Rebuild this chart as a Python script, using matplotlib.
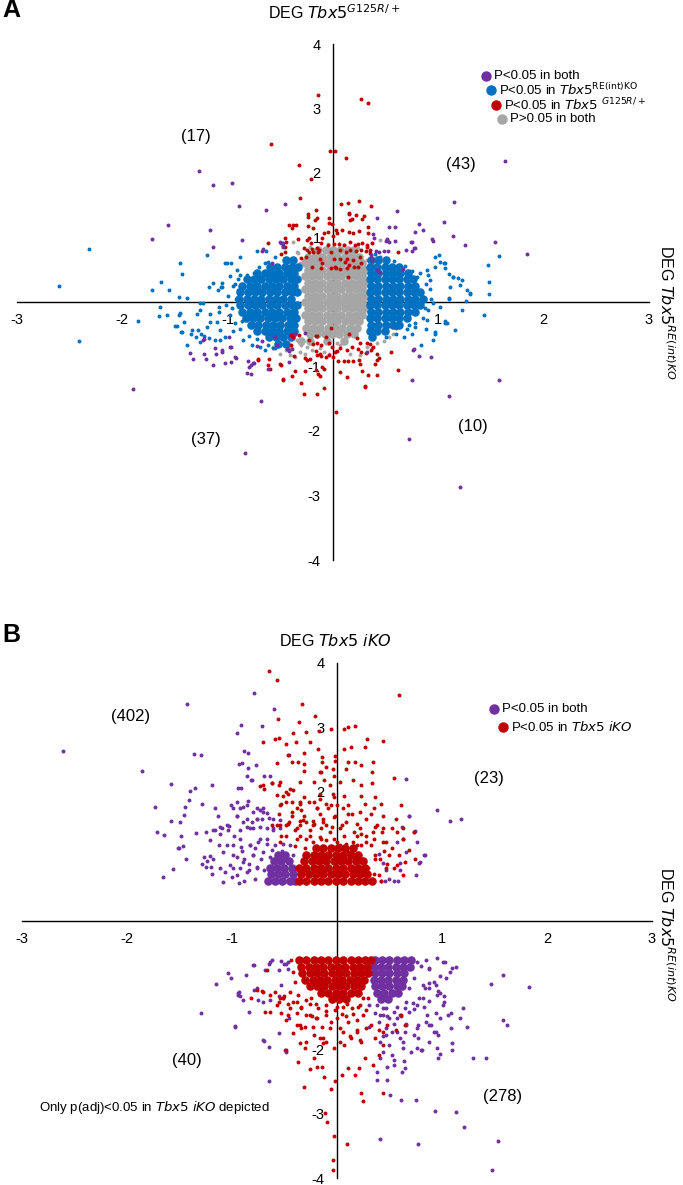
import matplotlib
matplotlib.use("Agg")
import matplotlib.pyplot as plt
from matplotlib.lines import Line2D

plt.rcParams['font.family'] = ['Liberation Sans Narrow', 'Liberation Sans', 'DejaVu Sans']
plt.rcParams['mathtext.fontset'] = 'custom'
plt.rcParams['mathtext.rm'] = 'Liberation Sans Narrow'
plt.rcParams['mathtext.it'] = 'Liberation Sans Narrow:italic'
plt.rcParams['mathtext.bf'] = 'Liberation Sans Narrow:bold'

PURPLE = '#7030A0'
BLUE = '#0070C0'
RED = '#C00000'
GREY = '#A6A6A6'

# ---------------- panel A data (log2 FC RE(int)KO , log2 FC G125R/+) ----------------
a_purple = [(-1.27, 2.03), (-1.14, 1.81), (-0.96, 1.85), (1.63, 2.18), (-0.89, 1.49), (-0.64, 1.42),
            (-0.46, 1.52), (1.15, 1.55), (0.61, 1.41), (0.42, 1.31), (-1.57, 1.20), (-1.17, 1.12),
            (1.05, 1.24), (0.82, 1.21), (0.85, 1.12), (-1.72, 0.97), (-0.86, 0.96), (1.14, 1.02),
            (0.94, 0.98), (1.54, 0.93), (1.25, 0.88), (1.84, 0.75), (-1.14, 0.85), (-0.66, 0.82),
            (-0.67, 0.79), (0.51, 0.96), (0.75, 0.93), (0.77, 0.83), (-0.49, 0.91), (-0.50, 0.93),
            (-0.47, 0.92), (-0.47, 0.86), (-0.58, 0.60), (0.44, 0.47), (0.53, 1.16), (0.59, 1.17),
            (0.78, 1.09), (0.95, 0.95), (0.38, 1.05), (0.39, 0.99), (0.50, 0.95), (0.53, 0.93),
            (0.51, 0.97), (0.59, 0.95), (0.74, 0.93), (0.69, 0.80), (0.75, 0.79), (0.78, 0.84),
            (0.41, 0.79), (0.44, 0.78), (0.48, 0.79), (0.52, 0.79), (0.42, 0.49), (0.45, 0.46),
            (0.66, 0.51), (0.36, 0.73), (0.37, 0.65),
            (-1.36, -0.79), (-1.33, -0.88), (-1.22, -0.81), (-1.21, -0.88), (-1.14, -0.98),
            (-1.05, -0.74), (-1.03, -0.95), (-0.93, -0.86), (-0.78, -0.98), (-0.76, -0.95),
            (-0.82, -1.10), (-0.78, -1.11), (-1.90, -1.35), (-0.68, -1.53), (-0.84, -2.34),
            (0.75, -1.21), (1.10, -1.46), (1.58, -1.21), (0.72, -2.13), (1.21, -2.87), (0.82, -0.84),
            (0.93, -0.86), (-1.22, -0.58), (-0.97, -0.69), (-0.43, -0.73), (-1.12, -0.72),
            (-1.11, -0.80), (-1.05, -0.78), (-0.97, -0.93), (-0.92, -0.87), (-0.81, -0.91),
            (-0.75, -0.94), (-1.23, -0.59), (-0.99, -0.54), (-0.98, -0.70), (-0.55, -0.54),
            (-0.53, -0.66), (-0.44, -0.73), (-0.42, -0.76), (-0.39, -0.73), (-0.27, -0.48),
            (-0.36, -0.49), (-0.72, -0.68), (-0.67, -0.60), (-0.62, -1.04), (-0.80, -1.01),
            (-0.42, -0.93), (0.32, -0.78), (0.76, -0.75), (0.77, -0.73)]

a_red = [(-0.14, 3.21), (0.27, 3.15), (0.33, 3.08), (-0.59, 2.45), (-0.03, 2.34), (0.02, 2.34),
         (0.12, 2.24), (-0.32, 2.13), (-0.21, 1.91), (-0.31, 1.62), (0.08, 1.52), (0.14, 1.53),
         (0.25, 1.57), (0.36, 1.49), (-0.16, 1.43), (-0.24, 1.36), (-0.24, 1.32), (-0.15, 1.31),
         (-0.17, 1.27), (-0.04, 1.30), (-0.04, 1.22), (-0.01, 1.21), (0.15, 1.36), (0.16, 1.27),
         (0.22, 1.35), (0.28, 1.28), (0.33, 1.17), (-0.42, 1.20), (-0.38, 1.19), (-0.35, 1.19),
         (-0.39, 1.14), (-0.24, 1.18), (-0.19, 1.15), (-0.09, 1.07), (-0.05, 1.08), (0.03, 1.12),
         (0.04, 1.07), (0.09, 1.11), (0.15, 1.08), (0.19, 1.07), (0.25, 1.10), (-0.10, 0.99),
         (0.00, 1.02), (-0.46, 1.00), (-0.33, 0.97), (-0.25, 0.96), (-0.23, 0.99), (-0.21, 0.92),
         (-0.62, 0.91), (-0.47, 0.87), (-0.46, 0.86), (-0.11, 0.91), (-0.05, 0.89), (0.01, 0.90),
         (0.06, 0.90), (0.10, 0.88), (0.16, 0.93), (0.21, 0.89), (0.24, 0.90), (0.28, 0.91),
         (0.32, 0.88), (-0.25, 0.81), (-0.20, 0.82), (-0.15, 0.83), (-0.13, 0.80), (-0.02, 0.78),
         (0.07, 0.81), (0.12, 0.78), (0.16, 0.81), (0.22, 0.79), (0.27, 0.80), (0.31, 0.79),
         (0.35, 0.80), (-0.30, 0.68), (-0.26, 0.69), (-0.12, 0.66), (0.01, 0.67), (0.07, 0.66),
         (0.13, 0.67), (0.19, 0.65), (0.26, 0.69), (-0.20, 0.54), (0.03, 0.53), (0.07, 0.51),
         (0.11, 0.62), (0.13, 0.52), (0.20, 0.55), (0.24, 0.54), (0.14, 0.38), (0.62, 0.78),
         (-0.46, 0.78), (-0.49, 0.74), (-0.28, 0.83), (-0.23, 0.78), (-0.19, 0.78), (-0.14, 0.78),
         (-0.11, 0.52), (0.33, 1.07), (0.37, 0.91), (0.32, 0.86), (0.02, 0.55), (0.15, 0.57),
         (0.27, 0.60), (0.37, 0.65), (0.35, 0.76), (-0.10, 0.60), (-0.02, 0.52), (0.15, 1.38),
         (0.18, 1.29), (0.29, 1.33), (-0.45, 0.93),
         (-0.02, -0.41), (-0.15, -0.52), (-0.07, -0.54), (-0.23, -0.59), (-0.19, -0.65),
         (-0.15, -0.64), (-0.11, -0.67), (-0.04, -0.64), (-0.01, -0.69), (0.15, -0.49),
         (0.23, -0.56), (0.26, -0.64), (0.32, -0.63), (0.35, -0.65), (0.38, -0.69), (0.04, -0.76),
         (0.07, -0.72), (0.13, -0.74), (0.18, -0.69), (0.24, -0.73), (0.27, -0.77), (0.31, -0.79),
         (0.36, -0.74), (0.42, -0.80), (0.44, -0.87), (0.42, -0.90), (0.40, -0.96), (0.02, -0.77),
         (0.00, -0.85), (0.05, -0.91), (0.10, -0.91), (0.14, -0.91), (0.19, -0.91), (0.26, -0.96),
         (0.25, -0.90), (-0.16, -0.76), (-0.12, -0.80), (-0.15, -0.82), (-0.11, -0.84),
         (-0.07, -0.85), (-0.04, -0.82), (-0.27, -0.87), (-0.22, -0.89), (-0.16, -1.05),
         (-0.10, -1.00), (-0.09, -1.04), (-0.14, -1.12), (-0.40, -0.67), (-0.37, -0.84),
         (-0.50, -0.96), (-0.62, -0.98), (-0.71, -0.90), (-0.36, -1.07), (-0.27, -1.07),
         (-0.39, -1.15), (-0.47, -1.21), (-0.12, -1.15), (-0.30, -1.26), (-0.09, -1.33),
         (-0.28, -1.42), (-0.15, -1.42), (0.07, -1.08), (0.13, -1.17), (0.28, -1.07), (0.30, -1.31),
         (0.33, -1.13), (0.42, -1.13), (0.62, -1.05), (0.55, -0.77), (-0.40, -0.51), (-0.38, -0.54),
         (0.03, -1.71), (0.30, -1.32), (-0.71, -0.88), (-0.61, -0.89), (-0.60, -1.04),
         (-0.49, -0.97), (-0.47, -1.20), (-0.25, -0.90), (-0.16, -0.52), (-0.36, -0.49),
         (-0.32, -0.51)]

a_blue = [(-2.32, 0.82), (-2.60, 0.25), (-1.45, 0.60), (-1.43, 0.44), (-1.63, 0.31), (-1.72, 0.19),
          (-1.56, 0.19), (1.58, 0.71), (1.47, 0.57), (1.48, 0.31), (1.48, 0.13), (1.30, 0.13),
          (1.14, 0.39), (1.06, 0.60), (0.97, 0.70), (-1.01, 0.60), (-0.97, 0.60), (-0.91, 0.50),
          (-1.18, 0.24), (-1.14, 0.29), (-1.05, 0.24), (-2.41, -0.60), (-1.85, -0.29), (-1.64, -0.08),
          (-1.58, -0.20), (-1.50, -0.37), (-1.46, -0.20), (-1.43, -0.46), (-1.35, -0.49),
          (-1.28, -0.43), (-1.22, -0.53), (1.43, -0.20), (1.22, -0.12), (1.26, 0.02), (1.30, 0.14),
          (1.16, -0.43), (1.06, -0.29), (1.08, -0.33), (0.97, -0.49), (0.95, -0.59), (-1.46, 0.07),
          (-1.39, 0.06), (-1.20, 0.73), (-1.09, 0.19), (-1.06, 0.23), (-1.03, 0.60), (-0.88, 0.70),
          (-0.72, 0.79), (-0.64, 0.79), (-0.65, 0.60), (-0.55, 0.69), (-1.26, -0.02), (-1.08, -0.07),
          (-1.65, -0.21), (-1.45, -0.17), (-1.41, -0.31), (-1.48, -0.37), (-1.44, -0.47),
          (-1.39, -0.67), (-1.34, -0.43), (-1.30, -0.54), (-1.26, -0.62), (-1.25, -0.49),
          (-1.20, -0.38), (-1.17, -0.31), (-1.10, -0.31), (-1.07, -0.43), (-1.18, -0.56),
          (-1.12, -0.59), (-1.07, -0.59), (-1.03, -0.54), (-1.26, -0.12), (-1.23, -0.02),
          (-1.29, -0.19), (-1.17, -0.18), (1.01, 0.73), (1.02, 0.62), (1.05, 0.60), (1.06, 0.52),
          (1.10, 0.44), (1.14, 0.39), (1.19, 0.37), (1.21, 0.26), (1.11, 0.24), (1.10, 0.06),
          (1.22, 0.34), (1.27, 0.19), (0.97, 0.55), (0.89, 0.50), (0.92, 0.34), (0.83, 0.13),
          (1.10, 0.04), (1.06, -0.33), (0.97, -0.46), (0.84, -0.67), (0.75, -0.49), (0.67, -0.54),
          (0.60, -0.41), (0.78, -0.38), (0.89, -0.28), (0.87, -0.10), (1.02, -0.07), (0.79, -0.12),
          (-0.65, -0.74), (-0.69, -0.69), (-0.57, -0.72), (-0.50, -0.64), (-0.77, -0.67),
          (-0.85, -0.59), (-0.98, 0.40), (-0.95, -0.45), (0.90, 0.42), (0.88, -0.42),
          (-1.00, 0.10), (-1.02, -0.05), (-0.98, -0.20), (-0.95, 0.25), (-0.90, 0.35), (-0.93, -0.32),
          (-0.88, -0.42), (-0.80, -0.52), (-0.75, 0.45), (-0.70, 0.55), (-0.62, 0.62), (-0.72, -0.58),
          (-0.62, -0.66), (-0.55, -0.72), (-0.88, 0.42), (-1.05, 0.30), (-1.08, -0.15), (-0.92, 0.05),
          (-0.96, -0.10), (-0.90, 0.18), (-0.86, -0.30), (-0.82, 0.42), (-0.93, 0.28),
          (0.92, 0.20), (0.93, 0.05), (0.90, -0.12), (0.85, -0.25), (0.80, 0.38), (0.75, 0.48),
          (0.68, 0.56), (0.58, 0.64), (0.78, -0.32), (0.70, -0.42), (0.60, -0.50), (0.50, -0.55),
          (0.45, 0.70), (0.40, 0.75), (0.88, 0.28), (0.95, -0.02), (0.83, 0.45), (0.72, -0.36)]

# dense centre of the two blue lobes: (y, x positions) rows
a_blue_rows = [(0.65, [-0.45, -0.38]),
               (0.55, [-0.60, -0.53, -0.46, -0.39, -0.33]),
               (0.45, [-0.72, -0.65, -0.58, -0.51, -0.44, -0.37]),
               (0.35, [-0.82, -0.75, -0.68, -0.61, -0.54, -0.47, -0.40, -0.34]),
               (0.25, [-0.86, -0.79, -0.72, -0.65, -0.58, -0.51, -0.44, -0.37]),
               (0.15, [-0.88, -0.81, -0.74, -0.67, -0.60, -0.53, -0.46, -0.39, -0.34]),
               (0.05, [-0.89, -0.82, -0.75, -0.68, -0.61, -0.54, -0.47, -0.40]),
               (-0.05, [-0.88, -0.81, -0.74, -0.67, -0.60, -0.53, -0.46, -0.39, -0.34]),
               (-0.15, [-0.86, -0.79, -0.72, -0.65, -0.58, -0.51, -0.44, -0.37]),
               (-0.25, [-0.83, -0.76, -0.69, -0.62, -0.55, -0.48, -0.41, -0.35]),
               (-0.35, [-0.78, -0.71, -0.64, -0.57, -0.50, -0.43, -0.37]),
               (-0.45, [-0.72, -0.65, -0.58, -0.51, -0.44, -0.37]),
               (-0.55, [-0.61, -0.54, -0.47, -0.40]),
               (-0.65, [-0.52, -0.45]),
               (0.65, [0.36, 0.43, 0.50]),
               (0.55, [0.35, 0.42, 0.49, 0.56, 0.63]),
               (0.45, [0.36, 0.43, 0.50, 0.57, 0.64, 0.71]),
               (0.35, [0.35, 0.42, 0.49, 0.56, 0.63, 0.70, 0.76]),
               (0.25, [0.36, 0.43, 0.50, 0.57, 0.64, 0.71, 0.78]),
               (0.15, [0.35, 0.42, 0.49, 0.56, 0.63, 0.70, 0.77, 0.83]),
               (0.05, [0.36, 0.43, 0.50, 0.57, 0.64, 0.71, 0.78, 0.85]),
               (-0.05, [0.35, 0.42, 0.49, 0.56, 0.63, 0.70, 0.77, 0.83]),
               (-0.15, [0.36, 0.43, 0.50, 0.57, 0.64, 0.71, 0.78]),
               (-0.25, [0.35, 0.42, 0.49, 0.56, 0.63, 0.70]),
               (-0.35, [0.36, 0.43, 0.50, 0.57, 0.63]),
               (-0.45, [0.35, 0.42, 0.49]),
               (-0.55, [0.37])]

a_grey = [(-0.34, -0.59), (-0.30, -0.67), (-0.25, -0.69), (-0.22, -0.64), (-0.31, -0.77),
          (-0.27, -0.80), (-0.20, -0.74), (-0.12, -0.72), (-0.09, -0.77), (-0.04, -0.80),
          (0.04, -0.64), (0.07, -0.67), (0.16, -0.80), (0.26, -0.82), (0.32, -0.69), (0.37, -0.72),
          (0.42, -0.64), (0.48, -0.61), (0.53, -0.54), (0.57, -0.49), (-0.41, -0.82), (-0.50, -0.80),
          (-0.57, -0.69), (-0.38, 0.93), (-0.33, 0.76), (-0.28, 0.65), (-0.41, 0.62), (0.32, 0.65),
          (0.38, 0.57), (0.42, 0.70), (0.45, 0.96), (0.37, 0.91), (-0.34, 0.78), (-0.41, 0.55),
          (-0.31, 0.60), (-0.45, -0.74), (-0.40, -0.70), (-0.36, -0.85), (-0.22, 0.86),
          (0.24, 0.84), (-0.05, 0.90), (0.10, 0.88)]

a_grey_rows = [(0.80, [-0.14, -0.07, 0.00, 0.07, 0.14, 0.20]),
               (0.70, [-0.24, -0.17, -0.10, -0.03, 0.04, 0.11, 0.18, 0.25]),
               (0.60, [-0.27, -0.20, -0.13, -0.06, 0.01, 0.08, 0.15, 0.22, 0.28]),
               (0.50, [-0.24, -0.17, -0.10, -0.03, 0.04, 0.11, 0.18, 0.25, 0.30]),
               (0.40, [-0.27, -0.20, -0.13, -0.06, 0.01, 0.08, 0.15, 0.22, 0.28]),
               (0.30, [-0.24, -0.17, -0.10, -0.03, 0.04, 0.11, 0.18, 0.25, 0.30]),
               (0.20, [-0.27, -0.20, -0.13, -0.06, 0.01, 0.08, 0.15, 0.22, 0.28]),
               (0.10, [-0.24, -0.17, -0.10, -0.03, 0.04, 0.11, 0.18, 0.25, 0.30]),
               (0.00, [-0.27, -0.20, -0.13, -0.06, 0.01, 0.08, 0.15, 0.22, 0.28]),
               (-0.10, [-0.24, -0.17, -0.10, -0.03, 0.04, 0.11, 0.18, 0.25, 0.30]),
               (-0.20, [-0.27, -0.20, -0.13, -0.06, 0.01, 0.08, 0.15, 0.22, 0.28]),
               (-0.30, [-0.24, -0.17, -0.10, -0.03, 0.04, 0.11, 0.18, 0.25]),
               (-0.40, [-0.26, -0.19, -0.12, -0.05, 0.02, 0.09, 0.16, 0.23]),
               (-0.50, [-0.22, -0.15, -0.08, -0.01, 0.06, 0.13, 0.20]),
               (-0.60, [-0.30, -0.22, -0.06, 0.10])]

# ---------------- panel B data (log2 FC RE(int)KO , log2 FC iKO) ----------------
b_purple = [(-2.61, 2.64), (-1.86, 2.33), (-1.43, 3.37), (-0.79, 3.53), (-0.60, 3.29), (-0.91, 3.03),
            (-0.95, 2.91), (-0.71, 3.02), (-1.36, 2.59), (-1.29, 2.57), (-0.93, 2.43), (-0.90, 2.44),
            (-0.88, 2.63), (-0.85, 2.60), (-0.77, 2.42), (-0.46, 2.57), (-0.85, 2.37), (-0.69, 2.25),
            (-0.64, 2.25), (-0.82, 2.18), (-1.58, 2.12), (-1.40, 2.01), (-1.35, 2.06), (-1.19, 2.10),
            (-0.94, 2.06), (-0.91, 2.06), (0.66, 2.20), (-1.73, 1.77), (-1.58, 1.54), (-1.71, 1.38),
            (-1.65, 1.33), (-1.51, 1.13), (-1.47, 1.16), (-1.44, 0.96), (-1.66, 0.68), (-1.56, 0.80),
            (-1.41, 1.87), (-1.45, 1.76), (-1.49, 1.53), (-1.34, 1.36), (-1.28, 1.81), (-1.16, 1.74),
            (-1.13, 1.63), (-1.18, 1.40), (-1.09, 1.43), (-1.05, 1.48), (-1.01, 1.80), (-0.99, 1.74),
            (0.95, 1.72), (1.08, 1.54), (1.18, 1.58), (0.69, 1.62), (0.74, 1.39), (0.83, 1.02),
            (0.78, 0.90), (0.75, 0.70), (0.60, 0.89), (0.60, 0.79), (0.47, 0.78), (0.44, 0.89),
            (0.40, 1.04), (0.54, 0.62), (0.46, 0.62), (0.42, 0.62), (-1.46, 1.64), (-1.48, 1.31),
            (-1.50, 1.13), (-1.25, 1.38), (-1.21, 1.25), (-1.16, 1.41), (-1.11, 1.45), (-1.11, 1.34),
            (-1.04, 1.40), (-1.03, 1.47), (-1.12, 1.17), (-1.08, 1.07), (-1.05, 1.18), (-0.95, 1.63),
            (-1.27, 0.98), (-1.24, 0.93), (-1.21, 1.00), (-1.28, 0.87), (-1.25, 0.83), (-1.20, 0.83),
            (-1.18, 0.96), (-1.19, 0.73), (-1.11, 0.81), (-1.07, 0.75), (-1.08, 0.60), (-1.02, 0.86),
            (-0.99, 0.81), (-0.95, 1.84), (-0.92, 1.74), (-0.89, 1.76), (-0.85, 1.85), (-0.86, 1.79),
            (-0.76, 1.74), (-0.73, 1.71), (-0.80, 1.69), (-0.70, 1.74), (-0.67, 1.67), (-0.86, 1.58),
            (-0.81, 1.53), (-0.76, 1.58), (-0.71, 1.57), (-0.65, 1.59), (-0.61, 1.58), (-0.54, 1.56),
            (-0.98, 1.32), (-0.92, 1.40), (-0.86, 1.45), (-0.80, 1.43), (-0.73, 1.45), (-0.67, 1.43),
            (-0.61, 1.40), (-0.54, 1.43), (-0.99, 1.17), (-0.91, 1.14), (-0.83, 1.17), (-0.75, 1.22),
            (-0.67, 1.19), (-0.59, 1.17), (-0.51, 1.19), (-0.45, 1.17), (-0.95, 0.99), (-0.88, 0.96),
            (-0.80, 1.01), (-0.72, 0.96), (-0.64, 0.99), (-0.54, 1.01), (-0.49, 0.96), (-0.42, 1.01),
            (-0.92, 0.81), (-0.84, 0.78), (-0.76, 0.83), (-0.69, 0.78), (-0.61, 0.81), (-0.53, 0.81),
            (-0.45, 0.78), (-0.38, 0.81), (-0.88, 0.62), (-0.78, 0.65), (-0.67, 0.62), (-0.57, 0.62),
            (-0.48, 0.62), (-0.38, 0.62), (-0.86, 2.25), (-0.81, 2.18), (-0.95, 1.63), (-0.89, 1.53),
            (-0.83, 1.43), (-0.76, 1.58), (-0.70, 1.69), (-0.92, 1.27), (-0.83, 1.17), (-0.73, 1.27),
            (-0.99, 1.01), (-0.89, 0.91), (-0.80, 1.01), (-0.70, 1.07), (-0.95, 0.70), (-0.86, 0.75),
            (-0.76, 0.81), (-0.67, 1.27), (-0.61, 1.43), (0.62, 1.45), (0.73, 1.38), (0.76, 1.22),
            (0.57, 1.22), (0.66, 1.07), (0.79, 0.91), (0.84, 1.01), (0.58, 0.62), (0.50, 0.65),
            (0.69, 1.63), (-0.62, 1.10), (-0.57, 0.92), (-0.52, 1.08), (-0.84, 0.88), (-0.78, 1.12),
            (-0.90, 1.08), (-1.00, 0.68), (-0.93, 0.58),
            (-1.29, -1.43), (-0.97, -1.64), (-1.15, -0.98), (-1.04, -0.82), (-1.01, -0.90),
            (-0.94, -1.12), (-0.94, -1.16), (-0.89, -1.24), (-0.79, -1.08), (-0.87, -0.85),
            (-0.79, -0.69), (-0.68, -0.77), (-0.62, -0.62), (-0.55, -0.77), (-0.47, -0.64),
            (-0.84, -1.42), (-0.55, -1.75), (-0.69, -1.87), (-0.65, -1.97), (-0.49, -2.01),
            (-0.48, -2.05), (-0.65, -2.49), (-0.65, -0.67), (-0.53, -0.63), (-0.50, -0.67),
            (-0.47, -0.76), (-0.93, -1.11), (-0.92, -1.17), (-0.75, -1.24), (-0.64, -1.24),
            (-0.55, -1.17), (-0.53, -1.00), (-0.70, -1.86), (-0.46, -1.52), (-0.80, -0.69),
            (-0.64, -0.64), (-0.48, -0.67), (-0.76, -1.05), (-0.70, -1.26), (-0.97, -1.65),
            (0.95, -0.59), (1.03, -0.64), (1.13, -0.73), (1.10, -0.74), (1.58, -0.84), (1.47, -0.99),
            (1.83, -1.04), (0.98, -0.86), (1.04, -0.90), (0.94, -1.00), (0.88, -0.97), (0.98, -1.13),
            (1.02, -1.18), (0.96, -1.10), (1.20, -1.36), (1.17, -1.52), (1.24, -1.65), (1.58, -1.55),
            (1.62, -1.62), (1.09, -1.44), (1.09, -1.67), (1.10, -1.91), (1.10, -2.01), (1.30, -2.13),
            (1.42, -2.13), (0.96, -2.13), (0.98, -2.08), (0.94, -1.73), (0.96, -1.78), (0.88, -1.62),
            (0.80, -2.01), (0.61, -2.79), (0.75, -2.79), (0.51, -2.71), (0.93, -2.96), (1.13, -2.97),
            (1.21, -3.21), (0.41, -3.40), (0.77, -3.47), (1.53, -3.42), (1.48, -3.87), (0.65, -2.29),
            (0.62, -2.35), (0.64, -2.19), (0.54, -2.17), (0.52, -2.09), (0.48, -2.27), (0.38, -2.35),
            (0.38, -2.48), (0.48, -2.48), (0.71, -2.04), (0.81, -2.01), (0.77, -1.83), (0.73, -1.78),
            (0.65, -1.73), (0.77, -1.62), (0.90, -1.62), (0.98, -1.52), (0.86, -1.47), (0.73, -1.37),
            (0.83, -1.34), (0.94, -1.44), (1.02, -1.26), (0.44, -1.80), (0.52, -1.73), (0.54, -1.60),
            (0.40, -1.57), (0.48, -1.49), (0.36, -1.44), (0.44, -1.36), (0.54, -1.42), (0.61, -1.49),
            (0.65, -1.36), (0.31, -1.31), (0.44, -1.47), (0.57, -1.52), (0.66, -1.60), (0.31, -1.65),
            (0.47, -1.78), (0.60, -1.83), (0.63, -1.98), (0.44, -2.04), (0.41, -2.14), (0.54, -2.24),
            (0.85, -0.62), (0.80, -0.70), (0.88, -0.75), (0.84, -1.05), (0.78, -1.20), (0.88, -1.25),
            (0.72, -1.28), (0.38, -1.31), (0.47, -1.36), (0.57, -1.34), (0.66, -1.26), (0.41, -1.47),
            (0.50, -1.52), (0.60, -1.47), (0.69, -1.42), (0.76, -1.31), (0.82, -1.21), (0.88, -1.05),
            (0.95, -1.16), (1.01, -1.31), (1.06, -1.47), (0.47, -1.67), (0.57, -1.73), (0.66, -1.62),
            (0.76, -1.67), (0.85, -1.57), (0.92, -1.73), (0.41, -1.88), (0.50, -1.93), (0.63, -1.88),
            (0.88, -1.88), (0.95, -1.98), (0.76, -1.98), (0.76, -0.64), (0.88, -0.74), (1.01, -0.64),
            (1.08, -0.80), (0.92, -0.95), (0.82, -1.00), (0.73, -0.90), (0.69, -1.05)]

b_purple_rows = [(0.62, [-0.66, -0.59, -0.52, -0.45, -0.40]),
                 (0.72, [-0.63, -0.56, -0.49, -0.42]),
                 (0.82, [-0.64, -0.57, -0.50, -0.43]),
                 (0.92, [-0.60, -0.53, -0.46]),
                 (1.02, [-0.56, -0.49]),
                 (-0.62, [0.36, 0.43, 0.50, 0.57, 0.64, 0.71]),
                 (-0.72, [0.35, 0.42, 0.49, 0.56, 0.63, 0.70]),
                 (-0.82, [0.36, 0.43, 0.50, 0.57, 0.64]),
                 (-0.92, [0.35, 0.42, 0.49, 0.56, 0.63]),
                 (-1.02, [0.36, 0.43, 0.50, 0.57, 0.62]),
                 (-1.12, [0.38, 0.45, 0.52, 0.58]),
                 (-1.22, [0.42, 0.49])]

b_red = [(-0.65, 3.88), (-0.57, 3.74), (0.59, 3.51), (-0.33, 3.36), (-0.21, 3.18), (-0.56, 3.13),
         (-0.36, 3.09), (-0.06, 2.98), (0.07, 2.98), (0.11, 3.00), (0.17, 3.02), (-0.70, 2.78),
         (-0.59, 2.82), (-0.55, 2.83), (-0.42, 2.91), (-0.29, 2.93), (-0.17, 2.95), (-0.48, 2.74),
         (-0.39, 2.77), (-0.26, 2.77), (0.29, 2.82), (0.44, 2.79), (-0.18, 2.67), (0.07, 2.67),
         (0.13, 2.69), (-0.47, 2.57), (-0.31, 2.60), (-0.14, 2.54), (-0.02, 2.56), (0.27, 2.69),
         (-0.57, 2.44), (-0.43, 2.46), (-0.37, 2.46), (-0.31, 2.43), (-0.14, 2.46), (-0.02, 2.47),
         (0.11, 2.46), (0.17, 2.46), (0.34, 2.46), (-0.31, 2.33), (-0.15, 2.31), (-0.04, 2.36),
         (0.09, 2.36), (0.23, 2.41), (0.33, 2.31), (-0.70, 2.10), (-0.62, 2.14), (-0.55, 2.10),
         (-0.45, 2.05), (-0.35, 2.15), (-0.22, 2.15), (-0.12, 2.18), (0.03, 2.15), (0.15, 2.18),
         (0.23, 2.10), (0.33, 2.14), (0.54, 2.21), (-0.47, 1.97), (-0.31, 1.92), (-0.16, 1.97),
         (-0.04, 1.97), (0.07, 1.94), (0.23, 1.94), (0.36, 1.92), (-0.53, 1.81), (-0.35, 1.84),
         (-0.22, 1.84), (-0.06, 1.79), (0.11, 1.79), (0.27, 1.81), (0.42, 1.81), (0.61, 1.79),
         (-0.55, 1.66), (-0.43, 1.69), (-0.31, 1.63), (-0.16, 1.66), (-0.02, 1.63), (0.11, 1.66),
         (0.32, 1.66), (0.44, 1.63), (0.56, 1.57), (-0.62, 1.48), (-0.47, 1.50), (-0.35, 1.48),
         (-0.22, 1.50), (-0.10, 1.48), (0.05, 1.48), (0.19, 1.50), (0.36, 1.45), (0.52, 1.43),
         (0.63, 1.43), (0.73, 1.38), (0.44, 1.22), (0.52, 1.12), (0.36, 0.96), (0.48, 0.88),
         (0.54, 0.81), (0.40, 0.70), (0.30, 0.81), (0.23, 1.17), (0.19, 1.32), (0.34, 1.38),
         (0.44, 1.43), (0.59, 1.01), (0.65, 0.91), (0.63, 1.27), (-0.73, 2.09), (-0.69, 2.04),
         (-0.62, 2.13), (-0.54, 2.15), (-0.57, 1.95), (-0.48, 1.99), (-0.42, 2.02), (-0.54, 1.79),
         (-0.48, 1.84), (-0.38, 1.74), (-0.34, 1.71), (-0.43, 1.63), (-0.35, 1.55), (-0.29, 1.53),
         (-0.40, 1.40), (-0.35, 1.32), (-0.48, 1.48), (-0.57, 1.48), (-0.53, 1.32), (-0.29, 1.27),
         (-0.23, 1.22), (-0.16, 1.30), (-0.10, 1.25), (-0.03, 1.27), (-0.30, 1.12), (-0.19, 1.14),
         (-0.07, 1.14), (0.00, 1.12), (-0.26, 1.40), (-0.15, 1.43), (-0.05, 1.45), (-0.23, 1.55),
         (-0.13, 1.58), (-0.03, 1.61), (-0.19, 1.74), (-0.08, 1.74), (0.00, 1.79), (-0.16, 1.89),
         (-0.03, 1.92), (-0.07, 2.10), (-0.03, 2.25), (-0.16, 2.31), (-0.10, 2.38), (0.07, 1.32),
         (0.15, 1.22), (0.23, 1.35), (0.32, 1.17), (0.11, 1.07), (0.21, 0.96), (0.36, 1.01),
         (0.03, 1.17), (-0.51, 1.94), (-0.43, 1.84), (-0.35, 1.81), (-0.27, 1.84), (-0.19, 1.74),
         (-0.10, 1.81), (0.06, 1.74), (0.14, 1.66), (0.22, 1.69), (0.28, 1.58), (0.35, 1.74),
         (0.38, 1.48), (-0.54, 1.48), (-0.46, 1.53), (-0.38, 1.43), (-0.32, 1.56), (-0.23, 1.48),
         (-0.13, 1.53), (-0.07, 1.38), (0.03, 1.43), (0.09, 1.53), (0.16, 1.38), (0.22, 1.43),
         (0.28, 1.32), (0.35, 1.27), (0.43, 1.38), (0.47, 1.22), (0.50, 1.01), (0.57, 1.38),
         (0.63, 1.27), (0.69, 1.09), (0.74, 0.96), (0.57, 0.86), (0.47, 0.81), (0.63, 0.70),
         (0.35, 0.73), (0.41, 0.96), (-0.38, 1.27), (-0.26, 1.32), (-0.15, 1.27), (0.00, 1.22),
         (0.09, 1.19), (0.19, 1.17), (-0.54, 1.22), (-0.48, 1.32), (0.42, 0.62), (0.45, 1.08),
         (-0.40, 1.16), (0.28, 1.22),
         (-0.11, -2.99), (-0.09, -3.13), (-0.03, -3.35), (0.10, -3.47), (-0.04, -3.72),
         (-0.04, -3.87), (-0.06, -2.62), (-0.02, -2.49), (0.05, -2.40), (0.11, -2.29), (0.17, -2.40),
         (-0.31, -2.58), (-0.26, -2.31), (-0.12, -2.43), (-0.37, -2.20), (-0.14, -2.27),
         (-0.22, -2.14), (0.23, -2.68), (0.25, -2.81), (0.44, -2.68), (0.21, -2.29), (0.34, -2.24),
         (0.27, -2.14), (0.40, -2.09), (0.44, -1.93), (-0.35, -1.91), (-0.22, -1.78), (-0.10, -1.88),
         (0.07, -1.93), (0.13, -1.83), (0.23, -1.88), (0.36, -1.83), (0.44, -1.73), (-0.68, -1.42),
         (-0.55, -1.26), (-0.47, -1.47), (-0.35, -1.62), (-0.24, -1.49), (-0.14, -1.65),
         (-0.06, -1.57), (0.03, -1.67), (0.11, -1.57), (0.19, -1.73), (0.32, -1.62), (0.40, -1.70),
         (0.48, -1.62), (0.56, -1.70), (0.65, -1.62), (0.61, -1.47), (-0.76, -1.08), (-0.64, -1.16),
         (-0.51, -1.21), (-0.82, -1.21), (-0.67, -0.77), (-0.71, -1.10), (-0.59, -1.11),
         (-0.54, -1.21), (-0.50, -1.18), (-0.47, -1.29), (-0.53, -1.44), (-0.45, -1.36),
         (-0.38, -1.26), (-0.34, -1.36), (-0.29, -1.24), (-0.26, -1.47), (-0.38, -1.62),
         (-0.30, -1.65), (-0.20, -1.52), (-0.16, -1.83), (-0.13, -1.91), (-0.03, -1.98),
         (-0.48, -2.01), (-0.30, -1.98), (-0.19, -2.27), (-0.20, -1.30), (-0.10, -1.40),
         (0.00, -1.35), (0.10, -1.30), (0.20, -1.35), (0.25, -1.20), (-0.25, -1.20), (0.05, -1.45),
         (0.15, -1.45), (-0.05, -1.25), (-0.42, -1.26), (-0.34, -1.34), (-0.26, -1.29),
         (-0.18, -1.36), (-0.10, -1.31), (-0.02, -1.39), (0.06, -1.34), (0.14, -1.36), (0.22, -1.31),
         (0.28, -1.39), (-0.38, -1.44), (-0.29, -1.47), (-0.19, -1.52), (-0.10, -1.47),
         (0.00, -1.52), (0.09, -1.49), (0.19, -1.55), (0.25, -1.47), (-0.45, -1.11), (-0.37, -1.16),
         (0.30, -1.21), (-0.51, -1.21), (-0.57, -1.31), (-0.64, -1.42), (-0.70, -1.11),
         (-0.48, -1.55), (-0.23, -1.65), (-0.07, -1.67), (0.06, -1.73), (0.19, -1.70),
         (0.28, -1.67), (0.12, -1.80), (0.22, -1.86), (0.03, -1.88), (-0.13, -1.83), (-0.34, -1.67),
         (-0.42, -1.75), (-0.29, -1.88), (-0.44, -0.62), (-0.42, -0.80), (-0.40, -0.95)]

b_red_rows = [(0.62, [-0.36, -0.29, -0.22, -0.15, -0.08, -0.01, 0.06, 0.13, 0.20, 0.27, 0.33]),
              (0.72, [-0.34, -0.27, -0.20, -0.13, -0.06, 0.01, 0.08, 0.15, 0.22, 0.29]),
              (0.82, [-0.36, -0.29, -0.22, -0.15, -0.08, -0.01, 0.06, 0.13, 0.20, 0.27]),
              (0.92, [-0.31, -0.24, -0.17, -0.10, -0.03, 0.04, 0.11, 0.18, 0.25]),
              (1.02, [-0.29, -0.22, -0.15, -0.08, -0.01, 0.06, 0.13, 0.20]),
              (1.12, [-0.20, -0.13, -0.06, 0.01, 0.08, 0.15]),
              (-0.62, [-0.36, -0.29, -0.22, -0.15, -0.08, -0.01, 0.06, 0.13, 0.20, 0.27, 0.32]),
              (-0.72, [-0.34, -0.27, -0.20, -0.13, -0.06, 0.01, 0.08, 0.15, 0.22, 0.29]),
              (-0.82, [-0.33, -0.26, -0.19, -0.12, -0.05, 0.02, 0.09, 0.16, 0.23, 0.30]),
              (-0.92, [-0.30, -0.23, -0.16, -0.09, -0.02, 0.05, 0.12, 0.19, 0.26]),
              (-1.02, [-0.26, -0.19, -0.12, -0.05, 0.02, 0.09, 0.16, 0.23]),
              (-1.12, [-0.15, -0.08, -0.01, 0.06, 0.13, 0.20]),
              (-1.22, [-0.05, 0.02, 0.09])]

# quadrant counts and labels
a_counts = ['(17)', '(43)', '(37)', '(10)']
b_counts = ['(402)', '(23)', '(40)', '(278)']
x_ticks = [-3, -2, -1, 1, 2, 3]
y_ticks = [-4, -3, -2, -1, 1, 2, 3, 4]

W, H = 683, 1185
SMALL, CORE = 8, 38


def fxy(px, py):
    return px / W, 1 - py / H


def xy(pts):
    return [p[0] for p in pts], [p[1] for p in pts]


def rows_xy(rows):
    xs, ys = [], []
    for yv, xl in rows:
        xs += xl
        ys += [yv] * len(xl)
    return xs, ys


def setup(ax):
    for s in ['top', 'right']:
        ax.spines[s].set_visible(False)
    ax.spines['left'].set_position('zero')
    ax.spines['bottom'].set_position('zero')
    for s in ['left', 'bottom']:
        ax.spines[s].set_linewidth(1.0)
        ax.spines[s].set_color('black')
    ax.set_xlim(-3, 3)
    ax.set_ylim(-4, 4)
    ax.set_xticks(x_ticks)
    ax.set_yticks(y_ticks)
    ax.set_xticklabels([str(t) for t in x_ticks])
    ax.set_yticklabels([str(t) for t in y_ticks])
    ax.tick_params(axis='both', length=0, labelsize=10.5)
    ax.tick_params(axis='x', pad=8)
    ax.tick_params(axis='y', pad=9)
    ax.patch.set_alpha(0)


def dots(ax, pts, color, z):
    x, y = xy(pts)
    ax.scatter(x, y, s=SMALL, color=color, linewidths=0, zorder=z, clip_on=False)


def core(ax, rows, color, z):
    x, y = rows_xy(rows)
    ax.scatter(x, y, s=CORE, color=color, linewidths=0, zorder=z)


fig = plt.figure(figsize=(W / 100, H / 100), dpi=100)

# ---------------- panel A ----------------
axA = fig.add_axes([17 / W, 1 - 560 / H, 632 / W, 516 / H])
setup(axA)
core(axA, a_grey_rows, GREY, 3)
dots(axA, a_grey, GREY, 3)
core(axA, a_blue_rows, BLUE, 3.1)
dots(axA, a_blue, BLUE, 3.1)
dots(axA, a_red, RED, 3.2)
dots(axA, a_purple, PURPLE, 3.3)

fig.text(*fxy(2, 10), 'A', fontsize=18, fontweight='bold', family='Liberation Sans', va='center')
fig.text(*fxy(334, 13), r'DEG $\mathit{Tbx5}^{\mathit{G125R/+}}$', fontsize=11.5, ha='center', va='center')
fig.text(*fxy(666, 312), r'DEG $\mathit{Tbx5}^{\mathit{RE(int)KO}}$', fontsize=11.5, rotation=-90,
         ha='center', va='center')

legA = [(PURPLE, 'P<0.05 in both', 485.6, 76),
        (BLUE, r'P<0.05 in $\mathit{Tbx5}^{\mathrm{RE(int)KO}}$', 490.8, 90),
        (RED, r'P<0.05 in $\mathit{Tbx5}\ ^{\mathit{G125R/+}}$', 495.6, 105),
        (GREY, 'P>0.05 in both', 502.2, 119)]
for c, lab, px, py in legA:
    fig.add_artist(Line2D([px / W], [1 - py / H], marker='o', markersize=6.5, color=c,
                          linestyle='none', transform=fig.transFigure))
    fig.text(*fxy(px + 8, py), lab, fontsize=9.5, va='center')

for lab, (px, py) in zip(a_counts, [(196, 137), (461, 164), (206, 439), (473, 427)]):
    fig.text(*fxy(px, py), lab, fontsize=12, ha='center', va='center')

# ---------------- panel B ----------------
axB = fig.add_axes([21.8 / W, 1 - 1178 / H, 630.2 / W, 515 / H])
setup(axB)
core(axB, b_purple_rows, PURPLE, 3)
dots(axB, b_purple, PURPLE, 3)
core(axB, b_red_rows, RED, 3.1)
dots(axB, b_red, RED, 3.1)

fig.text(*fxy(2, 635), 'B', fontsize=18, fontweight='bold', family='Liberation Sans', va='center')
fig.text(*fxy(335, 641), r'DEG $\mathit{Tbx5\ iKO}$', fontsize=11.5, ha='center', va='center')
fig.text(*fxy(666, 934), r'DEG $\mathit{Tbx5}^{\mathit{RE(int)KO}}$', fontsize=11.5, rotation=-90,
         ha='center', va='center')

legB = [(PURPLE, 'P<0.05 in both', 493.5, 709),
        (RED, r'P<0.05 in $\mathit{Tbx5\ iKO}$', 503, 727)]
for c, lab, px, py in legB:
    fig.add_artist(Line2D([px / W], [1 - py / H], marker='o', markersize=6.5, color=c,
                          linestyle='none', transform=fig.transFigure))
    fig.text(*fxy(px + 8, py), lab, fontsize=9.5, va='center')

for lab, (px, py) in zip(b_counts, [(131, 717), (489, 778), (187, 1061), (503, 1097)]):
    fig.text(*fxy(px, py), lab, fontsize=12, ha='center', va='center')

fig.text(*fxy(39, 1108), r'Only p(adj)<0.05 in $\mathit{Tbx5\ iKO}$ depicted', fontsize=9.5, va='center')

fig.savefig('out.png', dpi=100)
